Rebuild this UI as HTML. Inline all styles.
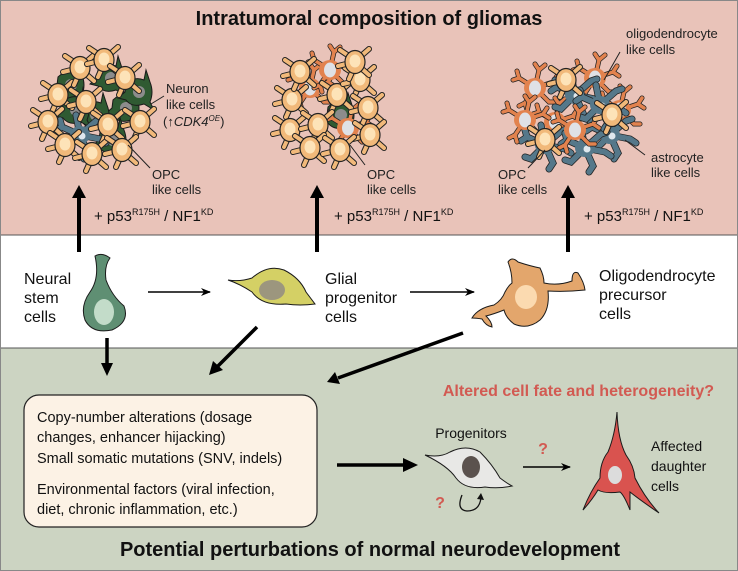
<!DOCTYPE html>
<html><head><meta charset="utf-8">
<style>
html,body{margin:0;padding:0;}
body{width:738px;height:571px;position:relative;overflow:hidden;font-family:"Liberation Sans",Arial,sans-serif;background:#fff;}
svg{position:absolute;left:0;top:0;}
</style></head>
<body>
<svg width="738" height="571" viewBox="0 0 738 571" xmlns="http://www.w3.org/2000/svg" font-family="Liberation Sans, Arial, sans-serif">
<defs>
  <g id="opc">
    <path d="M-6,-6 L-15,-12 M6,-6 L14,-13 M-2,8 L-6,17 M6,6 L14,13 M-9,2 L-17,4" stroke="#222" stroke-width="6" stroke-linecap="round" fill="none"/>
    <path d="M-6,-6 L-15,-12 M6,-6 L14,-13 M-2,8 L-6,17 M6,6 L14,13 M-9,2 L-17,4" stroke="#f1b97a" stroke-width="4" stroke-linecap="round" fill="none"/>
    <ellipse cx="0" cy="0" rx="10" ry="11.5" fill="#f1b97a" stroke="#222" stroke-width="1.2"/>
    <ellipse cx="0" cy="-1" rx="5.5" ry="6.5" fill="#fde3b8"/>
  </g>
  <g id="neu">
    <path d="M-12,-8 Q-4,-16 6,-12 L8,-22 L12,-10 Q16,0 12,10 L16,18 L6,12 Q-6,16 -12,8 L-20,6 L-13,0 Z" fill="#2f5a32" stroke="#1a1a1a" stroke-width="1"/>
    <ellipse cx="1" cy="0" rx="6" ry="6" fill="#8c8c8c"/>
  </g>
  <g id="oli">
    <path d="M0,0 L-16,-10 L-22,-8 M-16,-10 L-18,-17 M0,0 L4,-18 L0,-24 M4,-18 L10,-23 M0,0 L18,-6 L24,-2 M18,-6 L22,-12 M0,0 L14,14 L20,14 M0,0 L-10,15 L-16,18 M-10,15 L-8,22" stroke="#222" stroke-width="5" stroke-linecap="round" fill="none"/>
    <path d="M0,0 L-16,-10 L-22,-8 M-16,-10 L-18,-17 M0,0 L4,-18 L0,-24 M4,-18 L10,-23 M0,0 L18,-6 L24,-2 M18,-6 L22,-12 M0,0 L14,14 L20,14 M0,0 L-10,15 L-16,18 M-10,15 L-8,22" stroke="#e2824e" stroke-width="3.5" stroke-linecap="round" fill="none"/>
    <ellipse cx="0" cy="0" rx="11" ry="10" fill="#e2824e"/>
    <ellipse cx="0" cy="0" rx="6" ry="7.5" fill="#dfe1e6"/>
  </g>
  <g id="ast">
    <path d="M0,0 L-18,-8 L-24,-4 M-18,-8 L-20,-15 M0,0 L-4,-20 M0,0 L16,-14 L22,-16 M0,0 L20,4 L26,8 M0,0 L8,18 L4,24 M0,0 L-14,14 L-20,12" stroke="#222" stroke-width="7" stroke-linecap="round" fill="none"/>
    <path d="M0,0 L-18,-8 L-24,-4 M-18,-8 L-20,-15 M0,0 L-4,-20 M0,0 L16,-14 L22,-16 M0,0 L20,4 L26,8 M0,0 L8,18 L4,24 M0,0 L-14,14 L-20,12" stroke="#55788a" stroke-width="5.5" stroke-linecap="round" fill="none"/>
    <ellipse cx="0" cy="0" rx="10" ry="9" fill="#55788a"/>
    <circle cx="2" cy="1" r="3.5" fill="#dfe8ee"/>
  </g>
  <marker id="ahs" markerWidth="10" markerHeight="8" refX="9" refY="4" orient="auto" markerUnits="userSpaceOnUse"><path d="M0,0 L10,4 L0,8 L3,4 Z" fill="#000"/></marker>
</defs>

<rect x="0" y="0" width="738" height="235" fill="#e9c3b9"/>
<rect x="0" y="235" width="738" height="113" fill="#ffffff"/>
<rect x="0" y="348" width="738" height="223" fill="#ccd4c2"/>
<line x1="0" y1="235" x2="738" y2="235" stroke="#555" stroke-width="1"/>
<line x1="0" y1="348" x2="738" y2="348" stroke="#555" stroke-width="1"/>
<rect x="0.5" y="0.5" width="737" height="570" fill="none" stroke="#888" stroke-width="1"/>

<text x="369" y="25" text-anchor="middle" font-size="20" font-weight="bold" fill="#111">Intratumoral composition of gliomas</text>

<!-- cluster 1 -->
<g>
  <use href="#neu" x="70" y="85"/><use href="#neu" x="110" y="78"/><use href="#neu" x="125" y="108"/><use href="#neu" x="95" y="115"/><use href="#neu" x="112" y="140"/><use href="#neu" x="138" y="92"/><use href="#neu" x="75" y="110"/>
  <use href="#ast" x="80" y="135"/>
  <use href="#opc" x="58" y="95"/><use href="#opc" x="80" y="68"/><use href="#opc" x="104" y="60"/><use href="#opc" x="125" y="78"/>
  <use href="#opc" x="48" y="122"/><use href="#opc" x="65" y="145"/><use href="#opc" x="86" y="102"/><use href="#opc" x="108" y="125"/>
  <use href="#opc" x="140" y="122"/><use href="#opc" x="92" y="154"/><use href="#opc" x="122" y="150"/>
</g>
<!-- cluster 2 -->
<g>
  <use href="#neu" x="340" y="115"/>
  <use href="#oli" x="310" y="88"/><use href="#oli" x="348" y="128"/><use href="#oli" x="330" y="70"/>
  <use href="#opc" x="292" y="100"/><use href="#opc" x="290" y="130"/><use href="#opc" x="300" y="72"/><use href="#opc" x="337" y="95"/>
  <use href="#opc" x="360" y="80"/><use href="#opc" x="368" y="108"/><use href="#opc" x="370" y="135"/><use href="#opc" x="318" y="125"/>
  <use href="#opc" x="310" y="148"/><use href="#opc" x="340" y="150"/><use href="#opc" x="355" y="62"/>
</g>
<!-- cluster 3 -->
<g>
  <use href="#oli" x="535" y="88"/><use href="#oli" x="595" y="78"/><use href="#oli" x="555" y="122"/><use href="#oli" x="620" y="110"/>
  <use href="#ast" x="575" y="95"/><use href="#ast" x="610" y="135"/><use href="#ast" x="545" y="145"/><use href="#ast" x="585" y="148"/><use href="#ast" x="600" y="105"/>
  <use href="#oli" x="575" y="130"/><use href="#oli" x="525" y="120"/>
  <use href="#opc" x="566" y="80"/><use href="#opc" x="545" y="140"/><use href="#opc" x="612" y="115"/>
</g>

<g font-size="13" fill="#222">
  <line x1="151" y1="104" x2="164" y2="96" stroke="#222" stroke-width="1"/>
  <text x="166" y="93">Neuron</text>
  <text x="166" y="109">like cells</text>
  <text x="163" y="126">(<tspan font-weight="bold">↑</tspan><tspan font-style="italic">CDK4</tspan><tspan font-style="italic" font-size="8" dy="-5">OE</tspan><tspan dy="5">)</tspan></text>
  <line x1="128" y1="145" x2="150" y2="168" stroke="#222" stroke-width="1"/>
  <text x="152" y="179">OPC</text><text x="152" y="194">like cells</text>
  <line x1="350" y1="145" x2="365" y2="165" stroke="#222" stroke-width="1"/>
  <text x="367" y="179">OPC</text><text x="367" y="194">like cells</text>
  <line x1="545" y1="150" x2="528" y2="168" stroke="#222" stroke-width="1"/>
  <text x="498" y="179">OPC</text><text x="498" y="194">like cells</text>
  <line x1="625" y1="140" x2="645" y2="155" stroke="#222" stroke-width="1"/>
  <text x="651" y="162">astrocyte</text><text x="651" y="177">like cells</text>
  <line x1="620" y1="52" x2="604" y2="80" stroke="#222" stroke-width="1"/>
  <text x="626" y="38">oligodendrocyte</text><text x="626" y="54">like cells</text>
</g>

<g stroke="#000" stroke-width="4">
  <line x1="79" y1="252" x2="79" y2="196"/>
  <line x1="317" y1="252" x2="317" y2="196"/>
  <line x1="568" y1="252" x2="568" y2="196"/>
</g>
<g fill="#000">
  <path d="M72,198 L79,185 L86,198 Z"/><path d="M310,198 L317,185 L324,198 Z"/><path d="M561,198 L568,185 L575,198 Z"/>
</g>
<g font-size="15" fill="#111">
  <text x="94" y="221">+ p53<tspan font-size="9" dy="-6">R175H</tspan><tspan dy="6"> / NF1</tspan><tspan font-size="9" dy="-6">KD</tspan></text>
  <text x="334" y="221">+ p53<tspan font-size="9" dy="-6">R175H</tspan><tspan dy="6"> / NF1</tspan><tspan font-size="9" dy="-6">KD</tspan></text>
  <text x="584" y="221">+ p53<tspan font-size="9" dy="-6">R175H</tspan><tspan dy="6"> / NF1</tspan><tspan font-size="9" dy="-6">KD</tspan></text>
</g>

<g font-size="16" fill="#111">
  <text x="24" y="284">Neural</text><text x="24" y="303">stem</text><text x="24" y="322">cells</text>
  <text x="325" y="284">Glial</text><text x="325" y="303">progenitor</text><text x="325" y="322">cells</text>
  <text x="599" y="281">Oligodendrocyte</text><text x="599" y="300">precursor</text><text x="599" y="319">cells</text>
</g>
<path d="M95,256 Q102,252 110,258 Q104,266 106,280 Q112,296 124,306 Q130,322 112,330 Q92,334 85,320 Q80,306 90,292 Q100,278 95,256 Z" fill="#5f8f73" stroke="#1a1a1a" stroke-width="1"/>
<ellipse cx="104" cy="312" rx="10" ry="13" fill="#c3dcc9"/>
<path d="M228,280 Q240,282 252,278 Q268,264 284,270 Q300,278 306,292 Q312,300 315,304 Q300,306 286,304 Q262,306 252,292 Q240,284 228,280 Z" fill="#d4d065" stroke="#1a1a1a" stroke-width="1"/>
<ellipse cx="272" cy="290" rx="13" ry="10" fill="#9c967e"/>
<!-- OPC cell -->
<path d="M512,283 Q512,272 508,262 Q512,256 518,262 Q530,266 540,268 Q544,276 544,283 Q558,286 572,281 Q572,270 578,273 Q584,282 585,290 Q566,292 548,291 Q550,310 540,320 Q528,330 514,324 Q506,318 504,310 Q494,314 486,316 Q492,322 492,327 Q486,326 482,319 Q476,318 472,318 Q478,308 494,305 Q502,300 505,292 Q508,286 512,283 Z" fill="#e3a66c" stroke="#1a1a1a" stroke-width="1"/>
<ellipse cx="526" cy="297" rx="11" ry="12" fill="#fbdab0"/>

<g stroke="#000" stroke-width="1.5" fill="none">
  <line x1="148" y1="292" x2="210" y2="292" marker-end="url(#ahs)"/>
  <line x1="410" y1="292" x2="474" y2="292" marker-end="url(#ahs)"/>
  <line x1="523" y1="467" x2="570" y2="467" marker-end="url(#ahs)"/>
</g>
<g stroke="#000" stroke-width="3.5" fill="none">
  <line x1="107" y1="338" x2="107" y2="365"/>
  <line x1="257" y1="327" x2="218" y2="366"/>
  <line x1="463" y1="333" x2="338" y2="378"/>
  <line x1="337" y1="465" x2="405" y2="465"/>
</g>
<g fill="#000">
  <path d="M101,363 L107,376 L113,363 Z"/>
  <path d="M213,361 L209,375 L223,370 Z"/>
  <path d="M335,372 L327,382 L340,384 Z"/>
  <path d="M403,458 L418,465 L403,472 Z"/>
</g>

<rect x="24" y="395" width="293" height="132" rx="15" fill="#fcf2e5" stroke="#222" stroke-width="1.2"/>
<g font-size="14.5" fill="#111">
  <text x="37" y="422">Copy-number alterations (dosage</text>
  <text x="37" y="442">changes, enhancer hijacking)</text>
  <text x="37" y="463">Small somatic mutations (SNV, indels)</text>
  <text x="37" y="494">Environmental factors (viral infection,</text>
  <text x="37" y="514">diet, chronic inflammation, etc.)</text>
</g>

<text x="714" y="396" text-anchor="end" font-size="16" font-weight="bold" fill="#d25a52">Altered cell fate and heterogeneity?</text>
<text x="471" y="438" text-anchor="middle" font-size="14" fill="#111">Progenitors</text>
<path d="M425,455 Q440,458 450,452 Q466,444 480,452 Q492,464 500,478 Q508,484 512,486 Q498,489 485,487 Q465,490 456,478 Q448,466 425,455 Z" fill="#e8e8e6" stroke="#1a1a1a" stroke-width="1"/>
<ellipse cx="471" cy="467" rx="9" ry="11" fill="#5b524e"/>
<text x="440" y="508" text-anchor="middle" font-size="16" font-weight="bold" fill="#d25a52">?</text>
<text x="543" y="454" text-anchor="middle" font-size="16" font-weight="bold" fill="#d25a52">?</text>
<path d="M462,495 Q456,510 467,511 Q480,511 481,497" fill="none" stroke="#111" stroke-width="1.3"/>
<path d="M477,499 L481,493 L484,500 Z" fill="#111"/>
<path d="M617,412 Q618,440 626,455 Q634,466 635,478 Q645,498 659,513 Q640,500 630,492 L630,510 Q624,495 620,492 Q605,494 598,490 Q592,500 583,510 Q590,492 600,478 Q600,462 608,452 Q615,435 617,412 Z" fill="#d9534f" stroke="#1a1a1a" stroke-width="1"/>
<ellipse cx="615" cy="475" rx="7" ry="9" fill="#dcdcdc"/>
<g font-size="14" fill="#111">
  <text x="651" y="451">Affected</text><text x="651" y="471">daughter</text><text x="651" y="491">cells</text>
</g>

<text x="370" y="556" text-anchor="middle" font-size="20" font-weight="bold" fill="#111">Potential perturbations of normal neurodevelopment</text>
</svg>
</body></html>
